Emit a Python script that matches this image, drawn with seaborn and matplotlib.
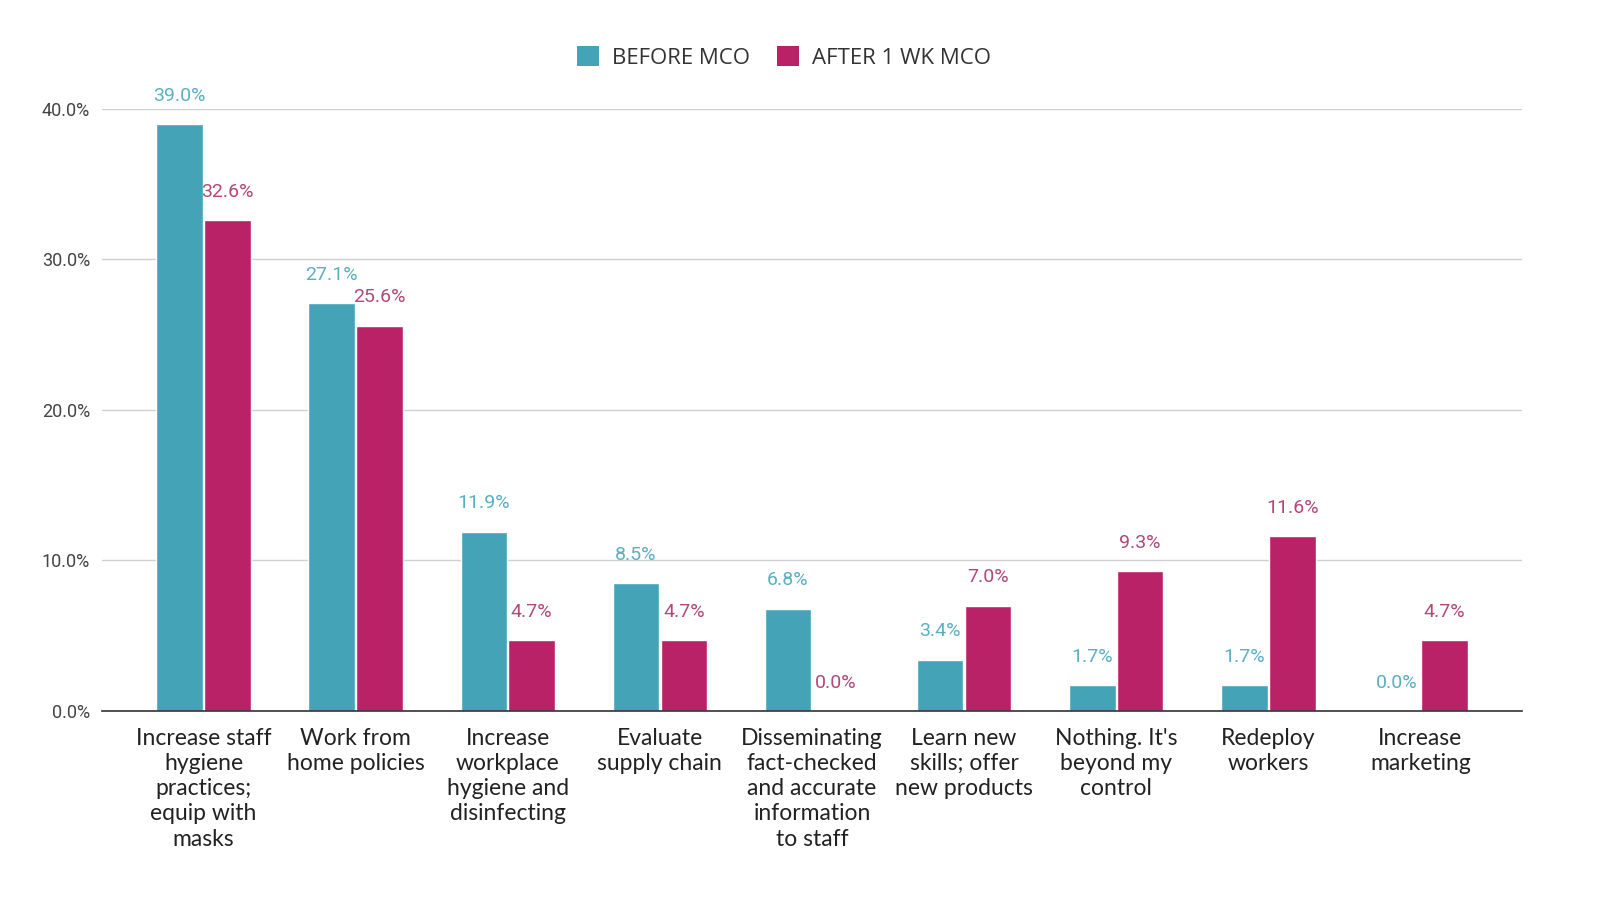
import pandas as pd
import seaborn as sns
import matplotlib.pyplot as plt
from matplotlib.patches import Patch

sns.set_theme(style="white")
plt.rcParams['font.family'] = ['Roboto', 'DejaVu Sans']

# data
categories = [
    "Increase staff\nhygiene\npractices;\nequip with\nmasks",
    "Work from\nhome policies",
    "Increase\nworkplace\nhygiene and\ndisinfecting",
    "Evaluate\nsupply chain",
    "Disseminating\nfact-checked\nand accurate\ninformation\nto staff",
    "Learn new\nskills; offer\nnew products",
    "Nothing. It's\nbeyond my\ncontrol",
    "Redeploy\nworkers",
    "Increase\nmarketing",
]
before_mco = [39.0, 27.1, 11.9, 8.5, 6.8, 3.4, 1.7, 1.7, 0.0]
after_mco = [32.6, 25.6, 4.7, 4.7, 0.0, 7.0, 9.3, 11.6, 4.7]
series = ["BEFORE MCO", "AFTER 1 WK MCO"]

colors = ["#45A3B8", "#BA2267"]
label_colors = ["#5AAFC2", "#B2477C"]

df = pd.DataFrame({
    "category": categories * 2,
    "value": before_mco + after_mco,
    "series": [series[0]] * len(categories) + [series[1]] * len(categories),
})

fig = plt.figure(figsize=(16, 9.13), dpi=100)
ax = fig.add_axes([0.064, 0.2213, 0.887, 0.6593])

sns.barplot(data=df, x="category", y="value", hue="series", palette=colors,
            width=0.63, gap=0.03, legend=False, ax=ax, saturation=1)

for cont, lc in zip(ax.containers, label_colors):
    ax.bar_label(cont, labels=["%.1f%%" % v for v in cont.datavalues],
                 padding=14, color=lc, fontsize=14, clip_on=False)

ax.set_ylim(0, 40)
ax.set_xlim(-0.665, 8.665)
ax.set_yticks([0, 10, 20, 30, 40])
ax.set_yticklabels(["%.1f%%" % t for t in [0, 10, 20, 30, 40]])
ax.yaxis.grid(True, color="#cfcfcf", linewidth=1)
ax.set_axisbelow(True)
ax.set_xlabel("")
ax.set_ylabel("")
sns.despine(ax=ax, left=True, top=True, right=True)
ax.spines["bottom"].set_color("#333333")
ax.spines["bottom"].set_linewidth(1.2)
ax.tick_params(axis="y", length=0, pad=9, labelsize=13, labelcolor="#444444")
ax.tick_params(axis="x", length=0, pad=12, labelsize=16.5, labelcolor="#222222")
for t in ax.get_xticklabels():
    t.set_family(["Lato", "DejaVu Sans"])
    t.set_linespacing(1.25)
    t.set_verticalalignment("top")

handles = [Patch(facecolor=c, edgecolor="none") for c in colors]
fig.legend(handles, series, loc="center", bbox_to_anchor=(0.49, 0.937), ncol=2,
           frameon=False, handlelength=1.0, handleheight=1.0,
           handletextpad=0.6, columnspacing=1.2, labelcolor="#333333",
           prop={"family": ["Open Sans", "DejaVu Sans"], "size": 16})

fig.savefig("out.png", dpi=100)
